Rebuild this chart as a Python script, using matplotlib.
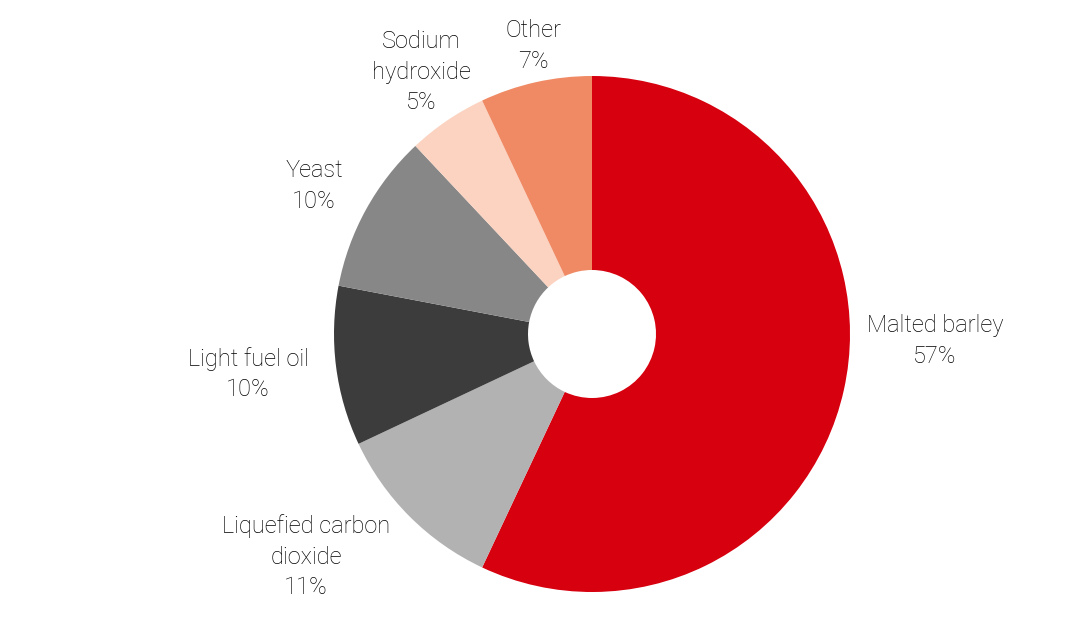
import matplotlib
matplotlib.use("Agg")
import matplotlib.pyplot as plt

categories = ["Malted barley", "Liquefied carbon\ndioxide", "Light fuel oil", "Yeast", "Sodium\nhydroxide", "Other"]
values = [57, 11, 10, 10, 5, 7]
colors = ["#D7000F", "#B2B2B2", "#3C3C3C", "#878787", "#FBD3C0", "#F08A65"]
# label centres (pixels from top-left), layout only
label_pos = [(935, 341), (306, 557), (248, 374), (314, 186), (421, 72), (533, 46)]

W, H = 1071, 618
fig = plt.figure(figsize=(W / 100, H / 100), dpi=100)
ax = fig.add_axes([0, 0, 1, 1])

cx, cy, R, r = 592, H - 334, 258, 64
ax.pie(values, colors=colors, startangle=90, counterclock=False,
       center=(cx, cy), radius=R, frame=True,
       wedgeprops=dict(width=R - r, linewidth=0))
ax.set_xlim(0, W)
ax.set_ylim(0, H)
ax.set_aspect("auto")
ax.axis("off")

for cat, v, (x, y) in zip(categories, values, label_pos):
    ax.text(x, H - y, f"{cat}\n{v}%", ha="center", va="center",
            fontsize=17, family="Roboto", fontweight="light",
            color="#000000", linespacing=1.42)

fig.savefig("out.png", dpi=100)
